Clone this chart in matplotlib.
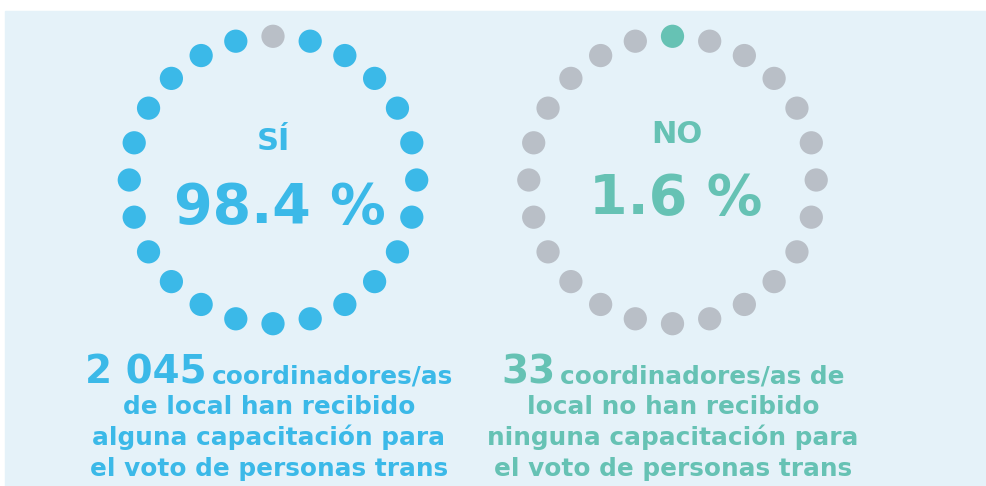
import numpy as np
import matplotlib
matplotlib.use("Agg")
import matplotlib.pyplot as plt
from matplotlib.patches import Rectangle

# data
n_dots = 24
labels = ["SÍ", "NO"]
percents = ["98.4 %", "1.6 %"]
counts = ["2 045", "33"]
first_rest = ["coordinadores/as", "coordinadores/as de"]
other_lines = [
    ["de local han recibido", "alguna capacitación para", "el voto de personas trans"],
    ["local no han recibido", "ninguna capacitación para", "el voto de personas trans"],
]
highlight_dot = [0, 0]  # index of the odd dot (top)

BLUE = "#3BB9E8"
TEAL = "#66C2B4"
GRAY = "#B9BFC7"
BG = "#E5F2F9"
main_colors = [BLUE, TEAL]
odd_colors = [GRAY, TEAL]
rest_colors = [BLUE, GRAY]

W, H = 986, 486
fig = plt.figure(figsize=(W / 100, H / 100), dpi=100)
ax = fig.add_axes([0, 0, 1, 1])
ax.set_xlim(0, W)
ax.set_ylim(H, 0)
ax.axis("off")

ax.add_patch(Rectangle((5, 11), W - 5, H - 11, color=BG, zorder=0))

FONT = "DejaVu Sans"
centers = [(273, 180), (672.5, 180)]
radius = 143.7

for i, (cx, cy) in enumerate(centers):
    ang = np.deg2rad(90 - 360 / n_dots * np.arange(n_dots))
    xs = cx + radius * np.cos(ang)
    ys = cy - radius * np.sin(ang)
    cols = [rest_colors[i]] * n_dots
    cols[highlight_dot[i]] = odd_colors[i]
    ax.scatter(xs, ys, s=280, c=cols, linewidths=0, zorder=2)

# labels inside the rings
ax.text(273, 141, labels[0], color=BLUE, fontsize=22, fontweight="bold",
        family=FONT, ha="center", va="center")
ax.text(280, 208, percents[0], color=BLUE, fontsize=40, fontweight="bold",
        family=FONT, ha="center", va="center")
ax.text(677, 134, labels[1], color=TEAL, fontsize=22, fontweight="bold",
        family=FONT, ha="center", va="center")
ax.text(676, 199, percents[1], color=TEAL, fontsize=40, fontweight="bold",
        family=FONT, ha="center", va="center")

# captions below
fig.canvas.draw()
renderer = fig.canvas.get_renderer()
block_cx = [269, 673]
base1 = 383
line_gap = 31
for i in range(2):
    c = main_colors[i]
    t1 = ax.text(0, base1, counts[i], color=c, fontsize=28, fontweight="bold",
                 family=FONT, ha="left", va="baseline")
    t2 = ax.text(0, base1, first_rest[i], color=c, fontsize=17.8, fontweight="bold",
                 family=FONT, ha="left", va="baseline")
    w1 = t1.get_window_extent(renderer).width
    w2 = t2.get_window_extent(renderer).width
    gap = 5
    x0 = block_cx[i] - (w1 + gap + w2) / 2
    t1.set_x(x0)
    t2.set_x(x0 + w1 + gap)
    for k, line in enumerate(other_lines[i]):
        ax.text(block_cx[i], base1 + line_gap * (k + 1), line, color=c,
                fontsize=17.8, fontweight="bold", family=FONT,
                ha="center", va="baseline")

fig.savefig("out.png", dpi=100)
